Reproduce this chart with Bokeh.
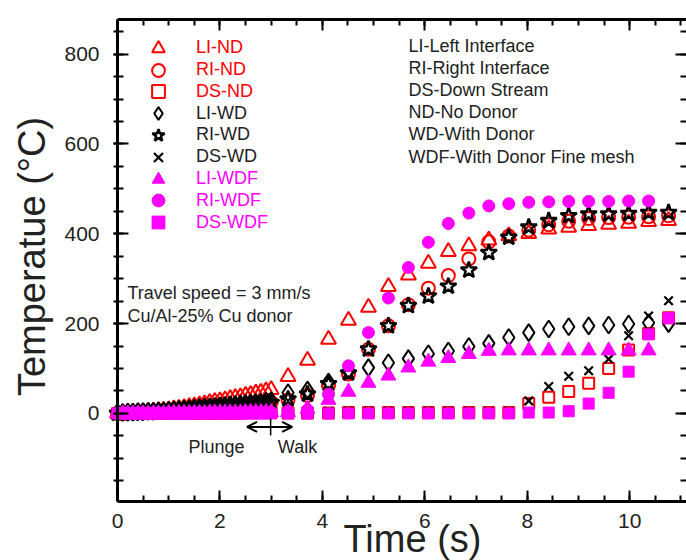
import math
from bokeh.plotting import figure
from bokeh.models import (ColumnDataSource, Legend, LegendItem, Label, Arrow, OpenHead,
                          LinearAxis, SingleIntervalTicker, CustomJSTickFormatter)
from bokeh.embed import file_html
from bokeh.resources import INLINE

# ---------------- data ----------------
t_dense = [0.0, 0.1, 0.2, 0.3, 0.4, 0.5, 0.6, 0.7, 0.8, 0.9, 1.0, 1.1, 1.2, 1.3, 1.4, 1.5,
           1.6, 1.7, 1.8, 1.9, 2.0, 2.1, 2.2, 2.3, 2.4, 2.5, 2.6, 2.7, 2.8, 2.9, 3.0]
t_coarse = [3.33, 3.71, 4.12, 4.51, 4.90, 5.29, 5.68, 6.07, 6.46, 6.86, 7.25, 7.64,
            8.03, 8.42, 8.81, 9.20, 9.59, 9.98, 10.37, 10.76]

li_nd = [0, 1, 1, 2, 3, 3, 4, 5, 6, 7, 8, 10, 11, 13, 15, 17, 19, 21, 24, 26, 28, 30, 33, 35,
         37, 40, 42, 45, 47, 50, 53,
         82, 118, 165, 207, 236, 282, 308, 334, 360, 373, 386, 395, 400, 410, 414, 418, 421,
         423, 427, 429]
ri_nd = [0, 0, 1, 1, 2, 2, 3, 3, 4, 4, 5, 6, 7, 8, 9, 10, 11, 12, 13, 14, 15, 16, 17, 18,
         19, 20, 21, 22, 23, 24, 25,
         30, 40, 62, 88, 143, 195, 242, 279, 307, 344, 382, 395, 408, 420, 428, 434, 436,
         437, 438, 440]
ds_nd = [0, 0, 0, 0, 0, 0, 0, 0, 0, 0, 0, 0, 0, 0, 0, 0, 1, 1, 1, 1, 1, 1, 1, 1, 1, 2, 2,
         2, 2, 2, 2,
         1, 1, 1, 2, 2, 2, 2, 2, 2, 2, 2, 2, 22, 36, 49, 67, 100, 141, 178, 213]
li_wd = [2, 2, 3, 3, 4, 4, 5, 5, 6, 6, 7, 8, 9, 10, 11, 12, 13, 14, 15, 16, 17, 18, 19, 20,
         21, 22, 23, 24, 25, 27, 28,
         46, 52, 70, 96, 102, 113, 122, 133, 139, 149, 156, 169, 180, 188, 193, 195, 197,
         199, 202, 200]
ri_wd = [0, 0, 1, 1, 1, 2, 2, 3, 3, 4, 4, 5, 6, 7, 8, 9, 10, 11, 12, 13, 14, 15, 16, 17,
         18, 19, 20, 21, 22, 23, 24,
         32, 43, 66, 90, 143, 195, 240, 261, 283, 319, 358, 392, 415, 429, 440, 444, 444,
         445, 447, 447]
ds_wd = [-2, -2, -2, -1, -1, -1, -1, 0, 0, 0, 0, 0, 1, 1, 1, 1, 1, 2, 2, 2, 2, 2, 2, 3, 3,
         3, 3, 3, 3, 4, 4,
         5, 5, 5, 5, 5, 5, 5, 5, 5, 5, 5, 5, 28, 60, 83, 95, 121, 173, 217, 251]
li_wdf = [0, 0, 0, 0, 0, 0, 0, 0, 0, 0, 1, 1, 1, 1, 1, 1, 1, 1, 2, 2, 2, 2, 2, 2, 2, 3, 3,
          3, 3, 3, 3,
          3, 10, 30, 48, 68, 84, 102, 115, 123, 132, 139, 140, 140, 140, 140, 140, 140,
          140, 140]
ri_wdf = [0, 0, 0, 0, 0, 0, 0, 0, 0, 0, 0, 0, 0, 0, 0, 1, 1, 1, 1, 1, 1, 1, 1, 1, 1, 1, 2,
          2, 2, 2, 2,
          5, 8, 43, 106, 180, 257, 325, 381, 423, 446, 462, 467, 470, 471, 472, 472, 472,
          473, 473]
ds_wdf = [0, 0, 0, 0, 0, 0, 0, 0, 0, 0, 0, 0, 0, 0, 0, 0, 0, 0, 0, 0, 0, 0, 0, 0, 0, 0, 0,
          0, 0, 0, 0,
          0, 0, 0, 0, 0, 0, 0, 0, 0, 0, 0, 0, 2, 2, 5, 22, 46, 93, 176, 212]

series_names = ["LI-ND", "RI-ND", "DS-ND", "LI-WD", "RI-WD", "DS-WD",
                "LI-WDF", "RI-WDF", "DS-WDF"]
notes = ["LI-Left Interface", "RI-Right Interface", "DS-Down Stream", "ND-No Donor",
         "WD-With Donor", "WDF-With Donor Fine mesh"]

# ---------------- figure ----------------
FONT = "Liberation Sans"
RED = "#ff0000"
MAG = "#ff00ff"
BLK = "#000000"
TXT = "#222222"

W, H = 686, 560
X_MIN, X_MAX = 0.0, 11.11        # visible axis box in data units
Y_MIN, Y_MAX = -196.0, 877.0
BOX_L, BOX_B, BOX_T = 117, 501, 19   # axis box edges in canvas px
# the plotting frame fills the canvas below the top border; ranges are padded so the
# axis box lands at BOX_L / BOX_B and the axis titles can sit inside the frame
px_x = (W - BOX_L) / (X_MAX - X_MIN)
px_y = (BOX_B - BOX_T) / (Y_MAX - Y_MIN)
x_lo = X_MIN - BOX_L / px_x
y_lo = Y_MIN - (H - BOX_B) / px_y

t_all = t_dense + t_coarse

p = figure(width=W, height=H, x_range=(x_lo, X_MAX), y_range=(y_lo, Y_MAX),
           output_backend="svg", toolbar_location=None,
           min_border_left=0, min_border_right=0, min_border_top=BOX_T, min_border_bottom=0)
p.outline_line_color = None
p.grid.visible = False
p.background_fill_color = "white"
p.border_fill_color = "white"

bottom = p.below[0]
left = p.left[0]
bottom.ticker = SingleIntervalTicker(interval=2, num_minor_ticks=4)
left.ticker = SingleIntervalTicker(interval=200, num_minor_ticks=4)
bottom.fixed_location = Y_MIN
left.fixed_location = X_MIN
bottom.bounds = (X_MIN, X_MAX)
left.bounds = (Y_MIN, Y_MAX)

top = LinearAxis(ticker=SingleIntervalTicker(interval=2, num_minor_ticks=4),
                 formatter=CustomJSTickFormatter(code="return ''"),
                 major_label_text_font_size="0px", major_label_standoff=0,
                 bounds=(X_MIN, X_MAX))
right = LinearAxis(ticker=SingleIntervalTicker(interval=200, num_minor_ticks=4),
                   formatter=CustomJSTickFormatter(code="return ''"),
                   major_label_text_font_size="0px", major_label_standoff=0,
                   bounds=(Y_MIN, Y_MAX))
p.add_layout(top, "above")
p.add_layout(right, "right")

for ax in [bottom, left, top, right]:
    ax.axis_line_width = 3
    ax.axis_line_color = BLK
    ax.major_tick_in = 11
    ax.major_tick_out = 0
    ax.minor_tick_in = 6
    ax.minor_tick_out = 0
    ax.major_tick_line_width = 2
    ax.minor_tick_line_width = 2
    ax.major_tick_line_color = BLK
    ax.minor_tick_line_color = BLK
right.axis_line_color = None
left.major_tick_out = 4
left.minor_tick_out = 4

for ax in [bottom, left]:
    ax.major_label_text_font = FONT
    ax.major_label_text_font_size = "21px"
    ax.major_label_text_color = TXT
bottom.major_label_standoff = 12
left.major_label_standoff = 14


def add(x, y, marker, size, color, filled, lw):
    src = ColumnDataSource(dict(x=x, y=y))
    if filled:
        return p.scatter("x", "y", source=src, marker=marker, size=size,
                         fill_color=color, line_color=color, line_width=1)
    return p.scatter("x", "y", source=src, marker=marker, size=size,
                     fill_color=None, line_color=color, line_width=lw)


renderers = [
    add(t_all, li_nd, "triangle", 15, RED, False, 2),
    add(t_all, ri_nd, "circle", 13, RED, False, 2),
    add(t_all, ds_nd, "square", 11, RED, False, 2),
    add(t_all, li_wd, "diamond", 17, BLK, False, 2),
    add(t_all, ri_wd, "star", 17, BLK, False, 2.5),
    add(t_all, ds_wd, "x", 12, BLK, False, 2.2),
    add(t_all[:len(li_wdf)], li_wdf, "triangle", 15, MAG, True, 1),
    add(t_all[:len(ri_wdf)], ri_wdf, "circle", 12, MAG, True, 1),
    add(t_all, ds_wdf, "square", 11, MAG, True, 1),
]
label_colors = [RED, RED, RED, TXT, TXT, TXT, MAG, MAG, MAG]

# one single-item legend per row (rows ~21.8 px apart, first row 47.7 px from top)
for i, (name, r, c) in enumerate(zip(series_names, renderers, label_colors)):
    row_center = 47.7 + 21.8 * i          # canvas px from top
    lg = Legend(items=[LegendItem(label=name, renderers=[r])],
                location=(142, H - row_center - 16), orientation="vertical",
                glyph_width=32, glyph_height=32, label_height=32, spacing=0,
                padding=0, margin=0, label_standoff=22,
                border_line_color=None, background_fill_alpha=0,
                label_text_font=FONT, label_text_font_size="18px",
                label_text_color=c)
    p.add_layout(lg)


def label(cx, cy, text, size="18px", align="left", baseline="middle", angle=0.0):
    # cx, cy: canvas px from top-left
    p.add_layout(Label(x=cx, y=H - cy, x_units="screen", y_units="screen", text=text,
                       text_font=FONT, text_font_size=size, text_color=TXT,
                       text_align=align, text_baseline=baseline, angle=angle))


for i, n in enumerate(notes):
    label(408, 45 + i * 22.2, n)

label(127, 292, "Travel speed = 3 mm/s")
label(127, 315, "Cu/Al-25% Cu donor")
label(216, 446, "Plunge", align="center")
label(297, 446, "Walk", align="center")

label(31, 256, "Temperatue (°C)", size="38px", align="center", baseline="alphabetic",
      angle=math.pi / 2)
label(412, 538, "Time (s)", size="38px", align="center", baseline="alphabetic")

p.add_layout(Arrow(start=OpenHead(size=10, line_width=2), end=OpenHead(size=10, line_width=2),
                   x_start=2.53, y_start=-30, x_end=3.41, y_end=-30, line_width=2))
p.add_layout(Arrow(start=None, end=None, x_start=2.99, y_start=-11, x_end=2.99, y_end=-49,
                   line_width=1.5))

open("out.html", "w").write(file_html(p, INLINE))
